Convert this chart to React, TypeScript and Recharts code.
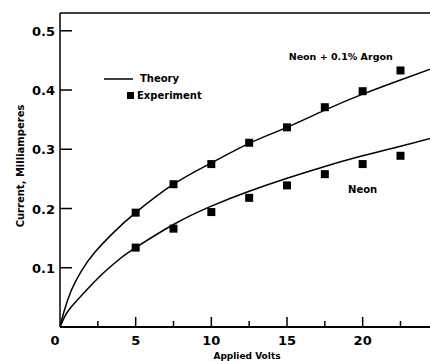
import React from "react";
import {
  ComposedChart,
  Line,
  Scatter,
  XAxis,
  YAxis,
  ReferenceDot,
} from "recharts";

// theory curves
const argonTheory = [
  { v: 0, i: 0 },
  { v: 0.25, i: 0.025 },
  { v: 0.75, i: 0.062 },
  { v: 1.4, i: 0.094 },
  { v: 2.3, i: 0.126 },
  { v: 3.6, i: 0.161 },
  { v: 5, i: 0.193 },
  { v: 7.5, i: 0.241 },
  { v: 10, i: 0.277 },
  { v: 12.5, i: 0.31 },
  { v: 15, i: 0.337 },
  { v: 17.5, i: 0.366 },
  { v: 20, i: 0.393 },
  { v: 22.5, i: 0.417 },
  { v: 25, i: 0.44 },
];

const neonTheory = [
  { v: 0, i: 0 },
  { v: 0.3, i: 0.017 },
  { v: 0.75, i: 0.034 },
  { v: 1.85, i: 0.065 },
  { v: 2.9, i: 0.092 },
  { v: 4, i: 0.116 },
  { v: 5, i: 0.134 },
  { v: 7.5, i: 0.173 },
  { v: 10, i: 0.204 },
  { v: 12.5, i: 0.229 },
  { v: 15, i: 0.251 },
  { v: 17.5, i: 0.271 },
  { v: 20, i: 0.289 },
  { v: 22.5, i: 0.305 },
  { v: 25, i: 0.322 },
];

// experiment points
const argonExp = [
  { v: 5, i: 0.193 },
  { v: 7.5, i: 0.241 },
  { v: 10, i: 0.275 },
  { v: 12.5, i: 0.311 },
  { v: 15, i: 0.337 },
  { v: 17.5, i: 0.371 },
  { v: 20, i: 0.398 },
  { v: 22.5, i: 0.433 },
];

const neonExp = [
  { v: 5, i: 0.134 },
  { v: 7.5, i: 0.166 },
  { v: 10, i: 0.194 },
  { v: 12.5, i: 0.218 },
  { v: 15, i: 0.239 },
  { v: 17.5, i: 0.258 },
  { v: 20, i: 0.275 },
  { v: 22.5, i: 0.289 },
];

const xTicks = [0, 2.5, 5, 7.5, 10, 12.5, 15, 17.5, 20, 22.5];
const yTicks = [0.1, 0.2, 0.3, 0.4, 0.5];

const FONT = "'DejaVu Sans', sans-serif";

const XTick = ({ x, y, payload }: any) => {
  const v = payload.value;
  const major = v % 5 === 0;
  return (
    <g>
      {v !== 0 && (
        <line x1={x} x2={x} y1={y} y2={y - (major ? 10 : 6)} stroke="#000" strokeWidth={1.5} />
      )}
      {major && (
        <text
          x={v === 0 ? x - 5 : x}
          y={y + 18}
          textAnchor="middle"
          fontFamily={FONT}
          fontWeight="bold"
          fontSize={13}
          fill="#000"
        >
          {v}
        </text>
      )}
    </g>
  );
};

const YTick = ({ x, y, payload }: any) => (
  <g>
    <line x1={x} x2={x + 12} y1={y} y2={y} stroke="#000" strokeWidth={1.5} />
    <text
      x={x - 5}
      y={y + 5}
      textAnchor="end"
      fontFamily={FONT}
      fontWeight="bold"
      fontSize={13}
      fill="#000"
    >
      {payload.value.toFixed(1)}
    </text>
  </g>
);

const XLabel = ({ viewBox }: any) => (
  <text
    x={viewBox.x + viewBox.width / 2 + 2}
    y={viewBox.y + 32}
    textAnchor="middle"
    fontFamily={FONT}
    fontWeight="bold"
    fontSize={9}
    fill="#000"
  >
    Applied Volts
  </text>
);

const YLabel = ({ viewBox }: any) => {
  const cx = viewBox.x + 21;
  const cy = viewBox.y + viewBox.height / 2 - 4;
  return (
    <text
      x={cx}
      y={cy}
      transform={`rotate(-90, ${cx}, ${cy})`}
      textAnchor="middle"
      dominantBaseline="middle"
      fontFamily={FONT}
      fontWeight="bold"
      fontSize={10}
      fill="#000"
      stroke="none"
    >
      Current, Milliamperes
    </text>
  );
};

const Square = ({ cx, cy }: any) => (
  <rect x={cx - 4} y={cy - 4} width={8} height={8} fill="#000" />
);

export default function App() {
  return (
    <div style={{ position: "absolute", left: 0, top: 0, width: 430, height: 361, background: "#fff" }}>
      <ComposedChart
        width={430}
        height={361}
        margin={{ top: 12, right: 0, bottom: 0, left: 0 }}
      >
        <XAxis
          xAxisId="top"
          orientation="top"
          type="number"
          dataKey="v"
          domain={[0, 24.45]}
          allowDataOverflow
          height={1}
          tick={false}
          tickLine={false}
          axisLine={{ stroke: "#000", strokeWidth: 1.5 }}
        />
        <XAxis
          type="number"
          dataKey="v"
          domain={[0, 24.45]}
          allowDataOverflow
          ticks={xTicks}
          interval={0}
          tickSize={0}
          tickMargin={0}
          tickLine={false}
          tick={<XTick />}
          height={34}
          axisLine={{ stroke: "#000", strokeWidth: 2 }}
          label={<XLabel />}
        />
        <YAxis
          type="number"
          dataKey="i"
          domain={[0, 0.53]}
          allowDataOverflow
          ticks={yTicks}
          interval={0}
          tickSize={0}
          tickMargin={0}
          tickLine={false}
          tick={<YTick />}
          width={60}
          axisLine={{ stroke: "#000", strokeWidth: 1.5 }}
          label={<YLabel />}
        />
        <Line
          data={argonTheory}
          dataKey="i"
          type="natural"
          stroke="#000"
          strokeWidth={1.5}
          dot={false}
          isAnimationActive={false}
        />
        <Line
          data={neonTheory}
          dataKey="i"
          type="natural"
          stroke="#000"
          strokeWidth={1.5}
          dot={false}
          isAnimationActive={false}
        />
        <Scatter data={argonExp} dataKey="i" shape={<Square />} isAnimationActive={false} />
        <Scatter data={neonExp} dataKey="i" shape={<Square />} isAnimationActive={false} />
        <ReferenceDot
          x={18.55}
          y={0.456}
          r={0}
          fill="none"
          stroke="none"
          label={{
            value: "Neon + 0.1% Argon",
            position: "center",
            fontFamily: FONT,
            fontWeight: "bold",
            fontSize: 9.5,
            fill: "#000",
          }}
        />
        <ReferenceDot
          x={20}
          y={0.232}
          r={0}
          fill="none"
          stroke="none"
          label={{
            value: "Neon",
            position: "center",
            fontFamily: FONT,
            fontWeight: "bold",
            fontSize: 10,
            fill: "#000",
          }}
        />
      </ComposedChart>
      <div
        style={{
          position: "absolute",
          left: 104,
          top: 70,
          fontFamily: FONT,
          fontWeight: "bold",
          fontSize: 10,
          lineHeight: "17px",
          color: "#000",
        }}
      >
        <div style={{ display: "flex", alignItems: "center" }}>
          <svg width={36} height={10}>
            <line x1={0} x2={29} y1={5} y2={5} stroke="#000" strokeWidth={1.5} />
          </svg>
          <span>Theory</span>
        </div>
        <div style={{ display: "flex", alignItems: "center", paddingLeft: 23 }}>
          <svg width={10} height={10}>
            <rect x={0} y={1} width={7} height={7} fill="#000" />
          </svg>
          <span>Experiment</span>
        </div>
      </div>
    </div>
  );
}
